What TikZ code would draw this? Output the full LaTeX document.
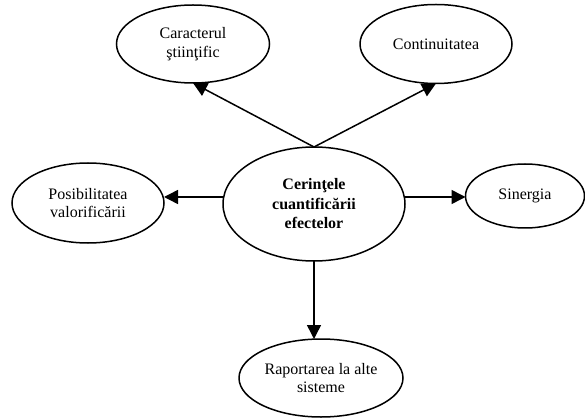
\documentclass[tikz,border=0pt]{standalone}
\usepackage{fontspec}
\setmainfont{Liberation Serif}
\usetikzlibrary{shapes.geometric,arrows.meta}

\begin{document}
\begin{tikzpicture}[x=1pt,y=-1pt,
    oval/.style={ellipse,draw,line width=1.5pt,inner sep=0pt,outer sep=0pt,
      align=center,font=\fontsize{16}{18.5}\selectfont},
    arr/.style={line width=1.5pt,-{Triangle[length=14pt,width=14pt]}}]
  \useasboundingbox (0,0) rectangle (585,419);
  % central requirement and the five criteria
  \node[oval,minimum width=182pt,minimum height=114pt,
    font=\fontsize{16}{19.5}\selectfont\bfseries] (c) at (314,204)
    {Cerinţele\\cuantificării\\efectelor};
  \node[oval,minimum width=153pt,minimum height=78pt] (tl) at (193,44)
    {Caracterul\\ştiinţific};
  \node[oval,minimum width=152pt,minimum height=79pt] (tr) at (436,44)
    {Continuitatea};
  \node[oval,minimum width=152pt,minimum height=80pt] (l) at (88,203)
    {Posibilitatea\\valorificării};
  \node[oval,minimum width=119pt,minimum height=64pt] (r) at (525,196)
    {Sinergia};
  \node[oval,minimum width=164pt,minimum height=78pt] (b) at (321,378)
    {Raportarea la alte\\sisteme};
  \coordinate (h) at (0,197);
  \draw[arr] (c.north) -- (tl.south);
  \draw[arr] (c.north) -- (tr.south);
  \draw[arr] (c.west |- h) -- (l.east |- h);
  \draw[arr] (c.east |- h) -- (r.west |- h);
  \draw[arr] (c.south) -- (c.south |- b.north);
\end{tikzpicture}
\end{document}
